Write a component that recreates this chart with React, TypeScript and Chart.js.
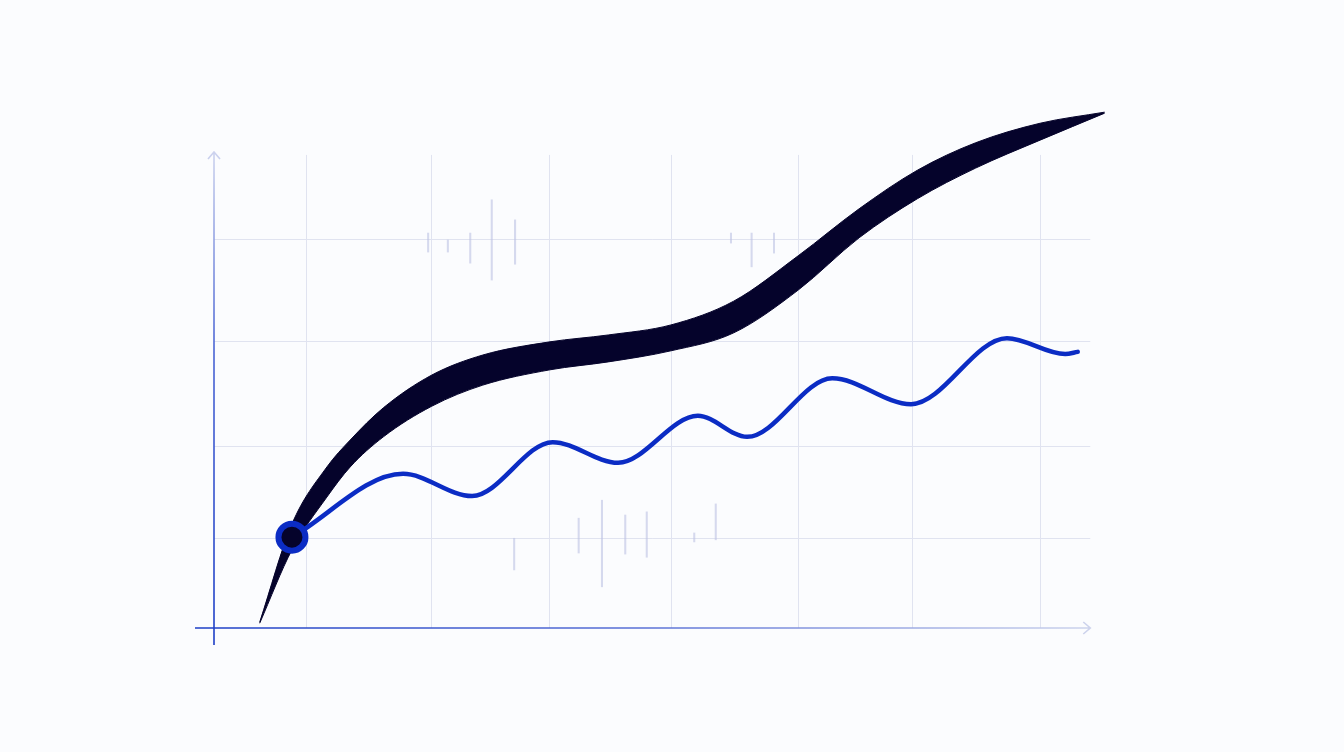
import React, { useEffect, useRef } from "react";
import { Chart, registerables } from "chart.js";

Chart.register(...registerables);

// x/y are plain 0..100 units; the axes themselves carry no labels
const ribbonX = [5.1, 8.7, 12.6, 15.2, 18.9, 24.3, 30.0, 37.5, 44.0, 51.0, 58.0, 65.2, 72.0, 78.5, 85.0, 92.2, 99.4];
const ribbonUpper = [1.1, 19.7, 30.5, 35.6, 41.7, 47.9, 51.7, 54.2, 55.5, 57.4, 61.9, 70.5, 79.4, 86.7, 91.9, 95.6, 97.7];
const ribbonLower = [0.9, 14.8, 24.8, 30.5, 36.2, 42.0, 46.0, 48.9, 50.4, 52.5, 55.9, 64.0, 73.9, 81.3, 87.1, 92.4, 97.5];

const waveX = [8.7, 21.1, 28.8, 37.8, 45.1, 54.0, 59.5, 69.0, 77.8, 88.5, 95.0, 96.4];
const waveY = [17.2, 29.2, 25.0, 35.2, 31.3, 40.2, 36.2, 47.3, 42.4, 54.9, 51.9, 52.3];

const markerX = [8.7];
const markerY = [17.2];

const tickX = [23.9, 26.1, 28.6, 31.0, 33.6, 57.7, 60.0, 62.5, 33.5, 40.7, 43.3, 45.9, 48.3, 53.6, 56.0];
const tickLow = [71.2, 71.2, 69.1, 65.9, 68.9, 72.9, 68.4, 71.0, 11.0, 14.2, 7.8, 14.0, 13.4, 16.3, 16.7];
const tickHigh = [74.8, 73.5, 74.8, 81.1, 77.3, 74.8, 74.8, 74.8, 17.0, 20.8, 24.2, 21.4, 22.0, 18.0, 23.5];

const gridX = [10.3, 24.2, 37.4, 51.0, 65.2, 77.9, 92.2];
const gridY = [17.0, 34.5, 54.4, 73.7];
const gridTop = 89.6;
const gridRight = 97.8;

const INK = "#05032b";
const BLUE = "#0b2cc4";

const gridPlugin = {
  id: "sketchGrid",
  beforeDatasetsDraw(chart: Chart) {
    const { ctx } = chart;
    const xs = chart.scales.x;
    const ys = chart.scales.y;
    const x0 = xs.getPixelForValue(0);
    const y0 = ys.getPixelForValue(0);
    const xEnd = xs.getPixelForValue(gridRight);
    const yTop = ys.getPixelForValue(gridTop);

    ctx.save();
    ctx.lineWidth = 1;
    ctx.strokeStyle = "#e0e3f0";
    for (const gx of gridX) {
      const px = Math.round(xs.getPixelForValue(gx)) + 0.5;
      ctx.beginPath();
      ctx.moveTo(px, yTop);
      ctx.lineTo(px, y0);
      ctx.stroke();
    }
    for (const gy of gridY) {
      const py = Math.round(ys.getPixelForValue(gy)) + 0.5;
      ctx.beginPath();
      ctx.moveTo(x0, py);
      ctx.lineTo(xEnd, py);
      ctx.stroke();
    }

    // y axis, blue at the bottom fading upward
    const yg = ctx.createLinearGradient(0, y0 + 17, 0, yTop - 3);
    yg.addColorStop(0, "#1d3ec6");
    yg.addColorStop(0.6, "#4a64d4");
    yg.addColorStop(1, "#cdd3ee");
    ctx.strokeStyle = yg;
    ctx.lineWidth = 1.6;
    ctx.beginPath();
    ctx.moveTo(x0, y0 + 17);
    ctx.lineTo(x0, yTop - 3);
    ctx.moveTo(x0 - 6, yTop + 4);
    ctx.lineTo(x0, yTop - 3);
    ctx.lineTo(x0 + 6, yTop + 4);
    ctx.stroke();

    // x axis, blue on the left fading right
    const xg = ctx.createLinearGradient(x0 - 19, 0, xEnd, 0);
    xg.addColorStop(0, "#1d3ec6");
    xg.addColorStop(0.5, "#5a70d6");
    xg.addColorStop(1, "#cdd3ec");
    ctx.strokeStyle = xg;
    ctx.beginPath();
    ctx.moveTo(x0 - 19, y0);
    ctx.lineTo(xEnd, y0);
    ctx.moveTo(xEnd - 7, y0 - 6);
    ctx.lineTo(xEnd, y0);
    ctx.lineTo(xEnd - 7, y0 + 6);
    ctx.stroke();
    ctx.restore();
  },
};

export default function App(): React.ReactElement {
  const canvasRef = useRef<HTMLCanvasElement | null>(null);

  useEffect(() => {
    const canvas = canvasRef.current;
    if (!canvas) return;

    const chart = new Chart(canvas, {
      type: "line",
      data: {
        datasets: [
          {
            type: "line",
            label: "start",
            data: markerX.map((x, i) => ({ x, y: markerY[i] })),
            showLine: false,
            pointRadius: 13.5,
            pointBorderWidth: 6,
            pointBackgroundColor: INK,
            pointBorderColor: BLUE,
          },
          {
            type: "line",
            label: "wave",
            data: waveX.map((x, i) => ({ x, y: waveY[i] })),
            borderColor: BLUE,
            borderWidth: 4.5,
            borderCapStyle: "round",
            pointRadius: 0,
            cubicInterpolationMode: "monotone",
            fill: false,
          },
          {
            type: "line",
            label: "upper",
            data: ribbonX.map((x, i) => ({ x, y: ribbonUpper[i] })),
            borderColor: INK,
            borderWidth: 1,
            pointRadius: 0,
            cubicInterpolationMode: "monotone",
            fill: false,
          },
          {
            type: "line",
            label: "lower",
            data: ribbonX.map((x, i) => ({ x, y: ribbonLower[i] })),
            borderColor: INK,
            backgroundColor: INK,
            borderWidth: 1,
            pointRadius: 0,
            cubicInterpolationMode: "monotone",
            fill: "-1",
          },
          {
            type: "bar",
            label: "ticks",
            data: tickX.map((x, i) => ({ x, y: [tickLow[i], tickHigh[i]] })) as any,
            backgroundColor: "rgba(188, 194, 226, 0.6)",
            barThickness: 1.4,
          },
        ],
      },
      options: {
        responsive: false,
        animation: false,
        layout: { padding: { left: 214, right: 234, top: 100, bottom: 124 } },
        plugins: {
          legend: { display: false },
          tooltip: { enabled: false },
        },
        scales: {
          x: { type: "linear", min: 0, max: 100, offset: false, display: false },
          y: { type: "linear", min: 0, max: 100, display: false },
        },
      },
      plugins: [gridPlugin],
    });

    return () => {
      chart.destroy();
    };
  }, []);

  return (
    <div
      style={{
        position: "fixed",
        left: 0,
        top: 0,
        width: 1344,
        height: 752,
        background: "#fbfcfe",
      }}
    >
      <canvas ref={canvasRef} width={1344} height={752} style={{ display: "block" }} />
    </div>
  );
}
